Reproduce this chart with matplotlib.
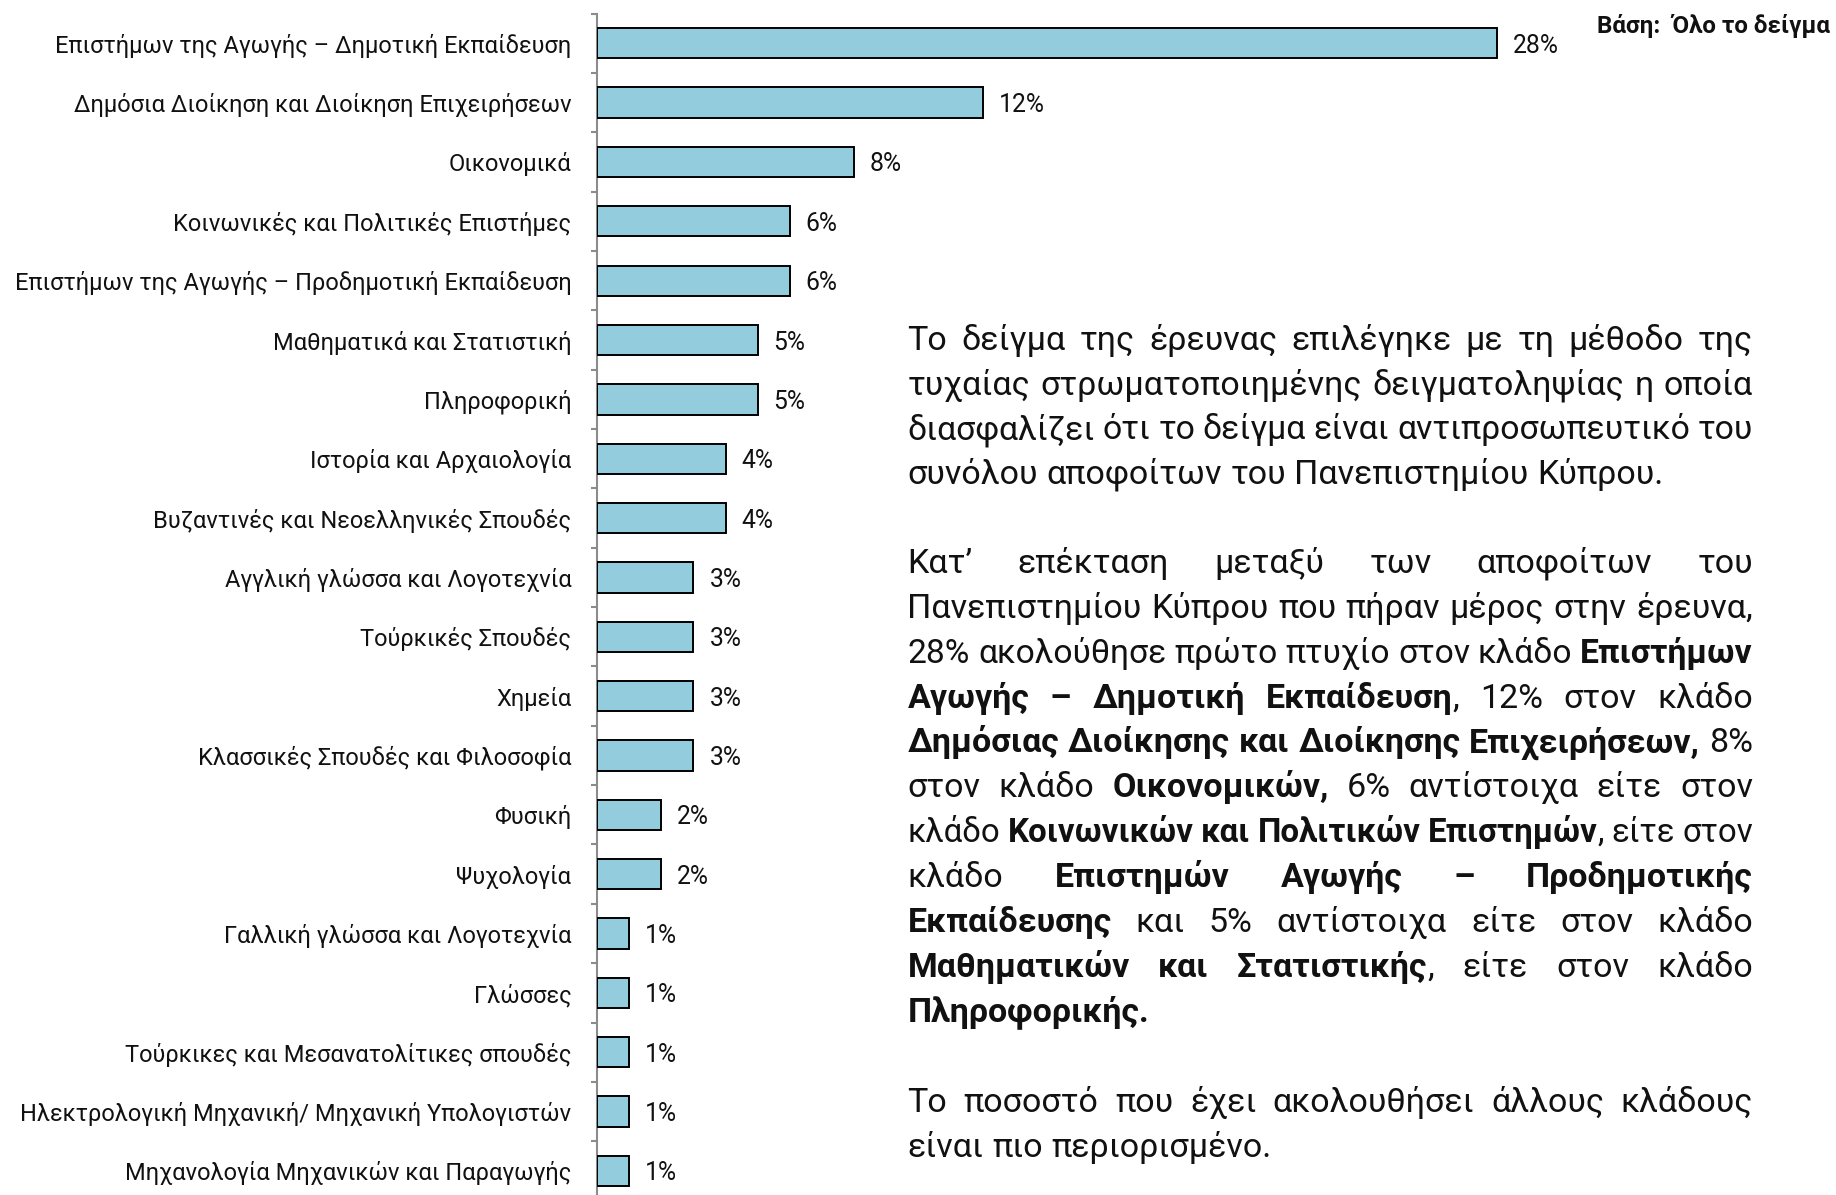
import matplotlib
matplotlib.use('Agg')
import matplotlib.pyplot as plt
from matplotlib.ticker import FixedLocator

W, H, DPI = 1836, 1195, 100
FONT = ['Roboto', 'DejaVu Sans']
plt.rcParams['font.family'] = FONT

# ---------------- data ----------------
categories = [
    "Επιστήμων της Αγωγής – Δημοτική Εκπαίδευση",
    "Δημόσια Διοίκηση και Διοίκηση Επιχειρήσεων",
    "Οικονομικά",
    "Κοινωνικές και Πολιτικές Επιστήμες",
    "Επιστήμων της Αγωγής – Προδημοτική Εκπαίδευση",
    "Μαθηματικά και Στατιστική",
    "Πληροφορική",
    "Ιστορία και Αρχαιολογία",
    "Βυζαντινές και Νεοελληνικές Σπουδές",
    "Αγγλική γλώσσα και Λογοτεχνία",
    "Τούρκικές Σπουδές",
    "Χημεία",
    "Κλασσικές Σπουδές και Φιλοσοφία",
    "Φυσική",
    "Ψυχολογία",
    "Γαλλική γλώσσα και Λογοτεχνία",
    "Γλώσσες",
    "Τούρκικες και Μεσανατολίτικες σπουδές",
    "Ηλεκτρολογική Μηχανική/ Μηχανική Υπολογιστών",
    "Μηχανολογία Μηχανικών και Παραγωγής",
]
values = [28, 12, 8, 6, 6, 5, 5, 4, 4, 3, 3, 3, 3, 2, 2, 1, 1, 1, 1, 1]
value_labels = [f"{v}%" for v in values]

base_note = "Βάση:  Όλο το δείγμα"

para1 = [
    "Το δείγμα της έρευνας επιλέγηκε με τη μέθοδο της",
    "τυχαίας στρωματοποιημένης δειγματοληψίας η οποία",
    "διασφαλίζει ότι το δείγμα είναι αντιπροσωπευτικό του",
    "συνόλου αποφοίτων του Πανεπιστημίου Κύπρου.",
]
para2 = [
    "Κατ’ επέκταση μεταξύ των αποφοίτων του",
    "Πανεπιστημίου Κύπρου που πήραν μέρος στην έρευνα,",
    "28% ακολούθησε πρώτο πτυχίο στον κλάδο **Επιστήμων**",
    "**Αγωγής – Δημοτική Εκπαίδευση**, 12% στον κλάδο",
    "**Δημόσιας Διοίκησης και Διοίκησης Επιχειρήσεων,** 8%",
    "στον κλάδο **Οικονομικών,** 6% αντίστοιχα είτε στον",
    "κλάδο **Κοινωνικών και Πολιτικών Επιστημών**, είτε στον",
    "κλάδο **Επιστημών Αγωγής – Προδημοτικής**",
    "**Εκπαίδευσης** και 5% αντίστοιχα είτε στον κλάδο",
    "**Μαθηματικών και Στατιστικής**, είτε στον κλάδο",
    "**Πληροφορικής.**",
]
para3 = [
    "Το ποσοστό που έχει ακολουθήσει άλλους κλάδους",
    "είναι πιο περιορισμένο.",
]

# ---------------- figure ----------------
fig = plt.figure(figsize=(W / DPI, H / DPI), dpi=DPI)
fig.patch.set_facecolor('white')
renderer = fig.canvas.get_renderer()


def text_width(s, size, weight='normal'):
    t = fig.text(0, 0, s, fontsize=size, fontweight=weight)
    w = t.get_window_extent(renderer).width
    t.remove()
    return w


# font sizes fitted to the reference widths (px)
lab_size = 15 * 557 / text_width(categories[4], 15)
val_size = 15 * 46 / text_width("28%", 15)
para_size = 22 * 753 / text_width(para1[3], 22)
note_size = 14 * 234 / text_width(base_note, 14, 'bold')

# ---------------- bar chart ----------------
n = len(categories)
axis_x = 597
px_per_unit = 900 / 28
row_px = 59.35
top_px = 13.6
ax_h_px = n * row_px
ax = fig.add_axes([axis_x / W, (H - top_px - ax_h_px) / H,
                   (W - axis_x) / W, ax_h_px / H])
ax.set_xlim(0, (W - axis_x) / px_per_unit)
ax.set_ylim(n - 0.5, -0.5)
ax.patch.set_alpha(0)

ypos = list(range(n))
ax.barh(ypos, values, height=0.51, color='#93CDDD', edgecolor='black',
        linewidth=1.4, zorder=3)

for y, v, lab in zip(ypos, values, value_labels):
    ax.annotate(lab, xy=(v, y), xytext=(11.5, 0), textcoords='offset points',
                va='center_baseline', ha='left', fontsize=val_size,
                color='#111111', annotation_clip=False)

for s in ['top', 'right', 'bottom']:
    ax.spines[s].set_visible(False)
ax.spines['left'].set_color('#8C8C8C')
ax.spines['left'].set_linewidth(1.5)
ax.set_xticks([])
ax.set_yticks(ypos)
ax.set_yticklabels(categories, fontsize=lab_size, color='#111111')
ax.tick_params(axis='y', which='major', length=0, pad=18.5)
ax.yaxis.set_minor_locator(FixedLocator([i - 0.5 for i in range(n + 1)]))
ax.tick_params(axis='y', which='minor', length=4.5, width=1.5,
               color='#8C8C8C', direction='out')

# ---------------- note ----------------
fig.text(1830 / W, 1 - 26 / H, base_note, ha='right', va='center',
         fontsize=note_size, fontweight='bold', color='#111111')

# ---------------- justified paragraph ----------------
X0, X1 = 907.5, 1753


def parse(line):
    parts = line.split('**')
    words = [[]]
    for k, part in enumerate(parts):
        bold = (k % 2 == 1)
        pieces = part.split(' ')
        for j, p in enumerate(pieces):
            if j > 0:
                words.append([])
            if p:
                words[-1].append((p, bold))
    return [w for w in words if w]


space_w = text_width('x x', para_size) - text_width('xx', para_size)


def draw_line(line, baseline_px, justify):
    words = parse(line)
    size = para_size
    widths = [[text_width(t, size, 'bold' if b else 'normal') for t, b in w]
              for w in words]
    totals = [sum(ws) for ws in widths]
    ngap = len(words) - 1
    min_gap = 0.9 * space_w
    if justify and ngap > 0 and sum(totals) + ngap * min_gap > X1 - X0:
        scale = (X1 - X0) / (sum(totals) + ngap * min_gap)
        size = para_size * scale
        widths = [[text_width(t, size, 'bold' if b else 'normal') for t, b in w]
                  for w in words]
        totals = [sum(ws) for ws in widths]
    if justify and ngap > 0:
        gap = (X1 - X0 - sum(totals)) / ngap
    else:
        gap = space_w
    x = X0
    for w, ws in zip(words, widths):
        xx = x
        for (t, b), fw in zip(w, ws):
            fig.text(xx / W, 1 - baseline_px / H, t, fontsize=size,
                     fontweight='bold' if b else 'normal', ha='left',
                     va='baseline', color='#111111')
            xx += fw
        x += sum(ws) + gap


def draw_para(lines, first_baseline, spacing):
    for i, ln in enumerate(lines):
        draw_line(ln, first_baseline + i * spacing, i < len(lines) - 1)


draw_para(para1, 350, 44.6)
draw_para(para2, 573, 44.85)
draw_para(para3, 1112, 44.85)

fig.savefig('out.png', dpi=DPI, facecolor='white')
